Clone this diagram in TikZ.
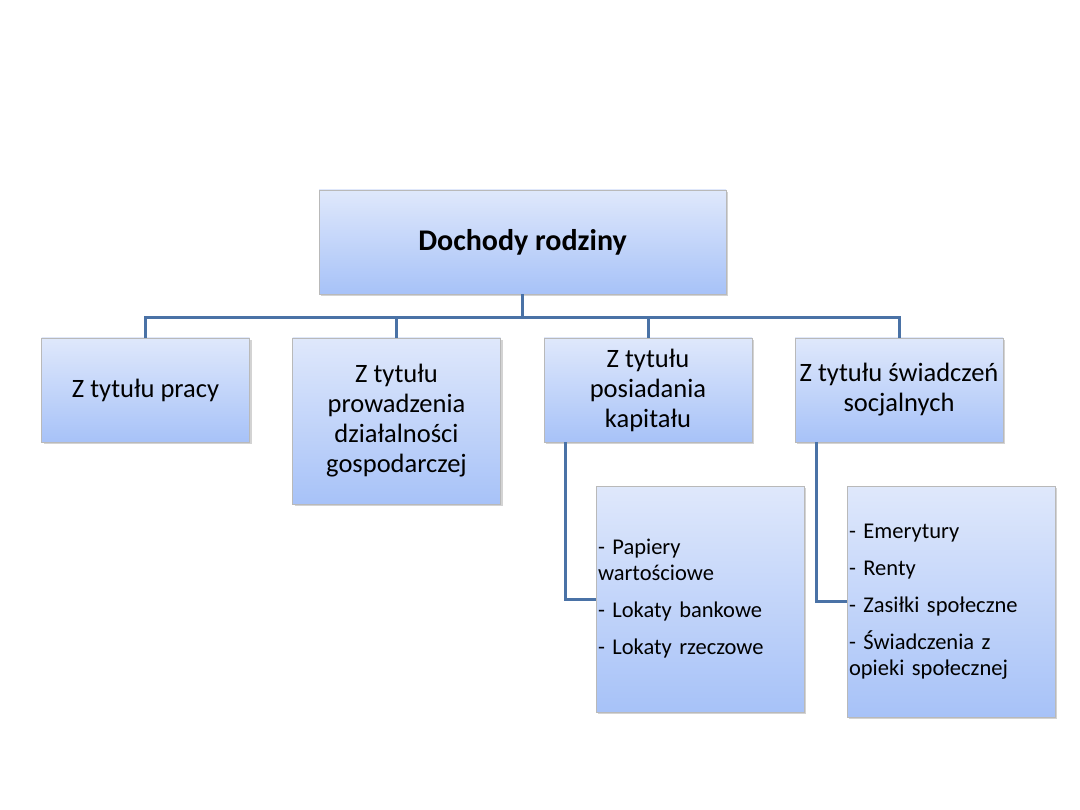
\documentclass[tikz,border=0pt]{standalone}
\usepackage{fontspec}
\setmainfont{Carlito}
\usetikzlibrary{positioning,calc,shadows}

\definecolor{boxtop}{HTML}{DFE8FB}
\definecolor{boxbot}{HTML}{A7C2F8}
\definecolor{linkblue}{HTML}{4A72A6}

\tikzset{
  incbox/.style={draw=gray!55, line width=0.6pt, top color=boxtop, bottom color=boxbot,
    minimum width=208pt, minimum height=104pt, align=center,
    font=\fontsize{26.5}{30}\selectfont,
    drop shadow={shadow xshift=2pt, shadow yshift=-2pt, opacity=0.35, fill=gray}},
  listbox/.style={incbox, align=left, text width=204pt, inner xsep=2pt,
    font=\fontsize{22.5}{26}\selectfont},
  link/.style={linkblue, line width=3pt}
}

\begin{document}
\begin{tikzpicture}[x=1pt, y=-1pt]
    \useasboundingbox (0,0) rectangle (1080,810);

    % Root
    \node[incbox, minimum width=407pt, font=\fontsize{30}{34}\selectfont\bfseries] (root) at (522.5,242) {Dochody rodziny};

    % Sources of income
    \node[incbox] (work) at (145.5,390) {Z tytułu pracy};
    \node[incbox, minimum height=166pt] (business) at (396.5,421) {Z tytułu\\prowadzenia\\działalności\\gospodarczej};
    \node[incbox] (capital) at (648,390) {Z tytułu\\posiadania\\kapitału};
    \node[incbox] (social) at (899,390) {Z tytułu świadczeń\\socjalnych};

    % Details
    \node[listbox, minimum height=226pt] (capitallist) at (700,599) {- Papiery\\wartościowe\\[11pt]- Lokaty bankowe\\[11pt]- Lokaty rzeczowe};
    \node[listbox, minimum height=231pt] (sociallist) at (951,601.5) {- Emerytury\\[11pt]- Renty\\[11pt]- Zasiłki społeczne\\[11pt]- Świadczenia z\\opieki społecznej};

    % Tree lines
    \draw[link] (root.south) -- ++(0,23) -| (work.north);
    \draw[link] (root.south) -- ++(0,23) -| (business.north);
    \draw[link] (root.south) -- ++(0,23) -| (capital.north);
    \draw[link] (root.south) -- ++(0,23) -| (social.north);

    \draw[link] ([xshift=22pt]capital.south west) |- (capitallist.west);
    \draw[link] ([xshift=22pt]social.south west) |- (sociallist.west);
\end{tikzpicture}
\end{document}
